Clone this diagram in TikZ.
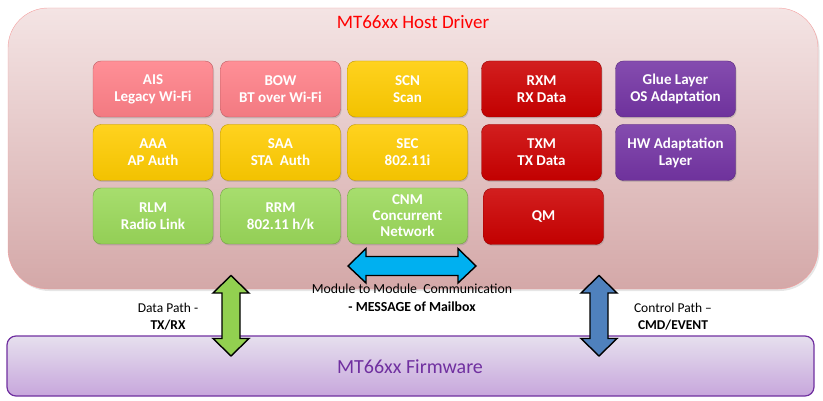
\documentclass[tikz,border=0pt]{standalone}
\usepackage{fontspec}
\setmainfont{Carlito}
\usetikzlibrary{shadows}

\definecolor{hosttop}{HTML}{F4E4E4}
\definecolor{hostbot}{HTML}{D4A8A8}
\definecolor{hostline}{HTML}{F4A0A0}
\definecolor{fwtop}{HTML}{E6E0EE}
\definecolor{fwbot}{HTML}{C7A6DC}
\definecolor{fwline}{HTML}{7030A0}
\definecolor{modpink}{HTML}{FF8088}
\definecolor{modyellow}{HTML}{FFCC00}
\definecolor{modred}{HTML}{CC0000}
\definecolor{modpurple}{HTML}{7434A4}
\definecolor{modgreen}{HTML}{9BD95A}
\definecolor{arrowblue}{HTML}{00B0F0}
\definecolor{arrowsteel}{HTML}{4F81BD}
\definecolor{arrowgreen}{HTML}{92D050}

\tikzset{
  module/.style={draw=#1!75!black, top color=#1!88!white, middle color=#1, bottom color=#1!95!black,
    rounded corners=8pt, minimum width=120pt, minimum height=56pt,
    text=white, align=center, inner sep=2pt,
    font=\fontsize{15}{17}\selectfont\bfseries,
    drop shadow={opacity=0.3, shadow xshift=1pt, shadow yshift=-1.5pt}},
  blockarrow/.style={draw=black, line width=1.4pt, fill=#1, line join=miter},
  label/.style={align=center, font=\fontsize{13.5}{17}\selectfont}
}

\begin{document}
\begin{tikzpicture}[x=1pt,y=-1pt]
\useasboundingbox (0,0) rectangle (823,401);

% host driver and firmware
\node[draw=hostline, top color=hosttop, bottom color=hostbot, rounded corners=40pt,
      minimum width=810pt, minimum height=281pt,
      drop shadow={opacity=0.2, shadow xshift=1.5pt, shadow yshift=-2pt}] (host) at (413,148.5) {};
\node[text=red, font=\fontsize{19}{22}\selectfont] (hosttitle) at (413,22) {MT66xx Host Driver};
\node[draw=fwline, line width=1.2pt, top color=fwtop, bottom color=fwbot, rounded corners=9pt,
      minimum width=807pt, minimum height=60pt] (fw) at (410.5,366) {};
\node[text=fwline, font=\fontsize{20}{24}\selectfont] (fwtitle) at (410,367) {MT66xx Firmware};

% modules
\node[module=modpink] (ais) at (153,89) {AIS\\Legacy Wi-Fi};
\node[module=modpink] (bow) at (280.5,89) {BOW\\BT over Wi-Fi};
\node[module=modyellow] (scn) at (407.5,89) {SCN\\Scan};
\node[module=modred] (rxm) at (541.5,89) {RXM\\RX Data};
\node[module=modpurple] (glue) at (675.5,89) {Glue Layer\\OS Adaptation};

\node[module=modyellow] (aaa) at (153,152.5) {AAA\\AP Auth};
\node[module=modyellow] (saa) at (280.5,152.5) {SAA\\STA~~Auth};
\node[module=modyellow] (sec) at (407.5,152.5) {SEC\\802.11i};
\node[module=modred] (txm) at (541.5,152.5) {TXM\\TX Data};
\node[module=modpurple] (hwa) at (675.5,152.5) {HW Adaptation\\Layer};

\node[module=modgreen] (rlm) at (153,216) {RLM\\Radio Link};
\node[module=modgreen] (rrm) at (280.5,216) {RRM\\802.11 h/k};
\node[module=modgreen, font=\fontsize{15}{16}\selectfont\bfseries] (cnm) at (407.5,216) {CNM\\Concurrent\\Network};
\node[module=modred] (qm) at (543.5,216.5) {QM};

% arrows
\draw[blockarrow=arrowblue] (348,266) -- (366,248.5) -- (366,256.5) -- (458,256.5) -- (458,248.5)
  -- (476,266) -- (458,283) -- (458,275.5) -- (366,275.5) -- (366,283) -- cycle;
\draw[blockarrow=arrowgreen] (231,275.5) -- (249,293) -- (240,293) -- (240,338.5) -- (249,338.5)
  -- (231,356) -- (213,338.5) -- (222,338.5) -- (222,293) -- (213,293) -- cycle;
\draw[blockarrow=arrowsteel] (599,275.5) -- (617,293) -- (608,293) -- (608,338.5) -- (617,338.5)
  -- (599,356) -- (581,338.5) -- (590,338.5) -- (590,293) -- (581,293) -- cycle;

% labels
\node[label, font=\fontsize{13.8}{18}\selectfont] (msglabel) at (412,298) {Module to Module~~Communication\\\textbf{- MESSAGE of Mailbox}};
\node[label] (datalabel) at (168,317) {Data Path -\\\textbf{TX/RX}};
\node[label] (ctrllabel) at (673,317) {Control Path –\\\textbf{CMD/EVENT}};
\end{tikzpicture}
\end{document}
